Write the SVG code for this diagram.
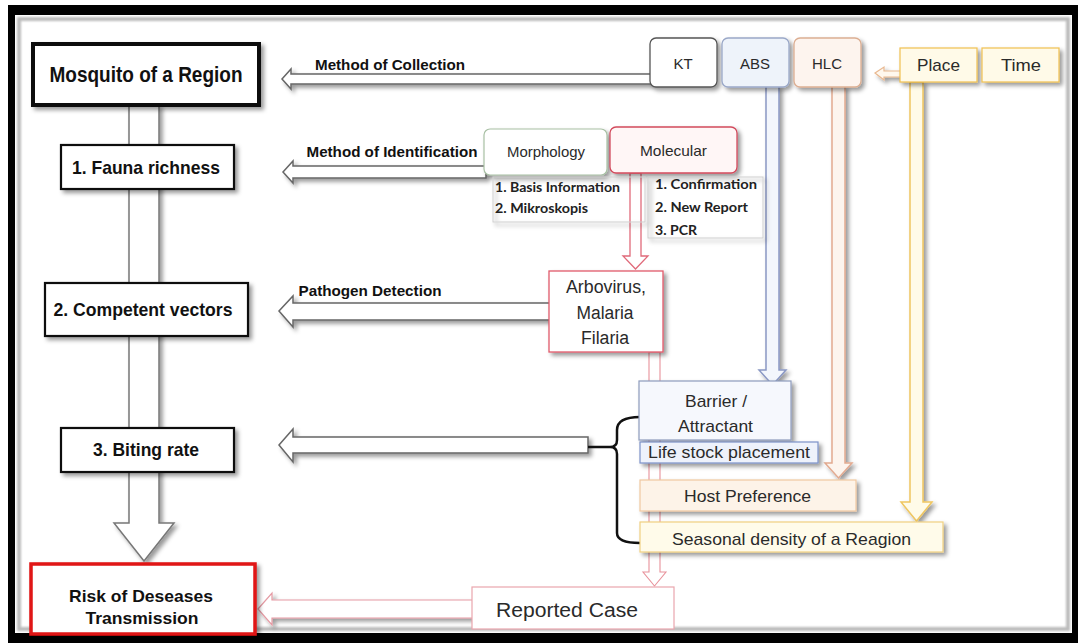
<svg xmlns="http://www.w3.org/2000/svg" width="1078" height="643" viewBox="0 0 1078 643">
<defs>
<filter id="sh" x="-20%" y="-50%" width="150%" height="200%">
<feDropShadow dx="3" dy="3" stdDeviation="2" flood-color="#000" flood-opacity="0.4"/>
</filter>
<filter id="blur1"><feGaussianBlur stdDeviation="1.2"/></filter>
</defs>
<style>
.b{font-family:"Liberation Sans",Arial,sans-serif;font-weight:bold;fill:#111;text-anchor:middle}
.r{font-family:"Liberation Sans",Arial,sans-serif;fill:#2a2a2a;text-anchor:middle}
.c{font-family:Lato,"Liberation Sans",sans-serif;font-weight:bold;fill:#222}
.arr{fill:#fff;stroke:#666;stroke-width:1.5;stroke-linejoin:miter;filter:url(#sh)}
.box{filter:url(#sh)}
</style>
<rect x="0" y="0" width="1078" height="643" fill="#fff"/>
<rect x="8" y="5" width="1070" height="638" fill="#000"/>
<rect x="15" y="15" width="1057" height="618" fill="#fff"/>
<rect x="19" y="19" width="1049" height="610" fill="none" stroke="#bbb" stroke-width="4" filter="url(#blur1)"/>

<g id="connectors">
<polygon class="arr" points="129,105 159,105 159,523 174,523 144,561 114,523 129,523" style="stroke:#777"/>
<polygon class="arr" points="282,79 291,69 291,74 652,74 652,84 291,84 291,89"/>
<polygon class="arr" points="283,172 293,161 293,166 486,166 486,178 293,178 293,183"/>
<polygon class="arr" points="279,311 293,296 293,303 551,303 551,320 293,320 293,327"/>
<polygon class="arr" points="279,445 293,429 293,437 588,437 588,453 293,453 293,462"/>
<polygon class="arr" points="258,609 272,593 272,600 474,600 474,618 272,618 272,625" style="stroke:#e59aa3;stroke-width:1.2"/>
<polygon class="arr" points="875,73 884,67 884,71 902,71 902,77 884,77 884,80" style="stroke:#e8b890;fill:#fff8ee;stroke-width:1.2"/>
<polygon class="arr" points="766,86 779,86 779,370 786,370 772.5,385 759,370 766,370" style="fill:#f3f6fc;stroke:#8a98c4"/>
<polygon class="arr" points="832,86 845,86 845,463 852,463 838.5,478 825,463 832,463" style="fill:#fdf5ee;stroke:#e2aa90"/>
<polygon class="arr" points="910,82 923,82 923,502 932,502 916.5,521 901,502 910,502" style="fill:#fffbe8;stroke:#efc660"/>
<polygon class="arr" points="649,352 660,352 660,572 666,572 654.5,586 643,572 649,572" style="fill:#fff;stroke:#e8929b;stroke-width:1.1;filter:none"/>
<polygon class="arr" points="630,173 641,173 641,256 648,256 635.5,269 623,256 630,256" style="fill:#fff;stroke:#e06a7a;stroke-width:1.3;filter:none"/>
<path d="M640 417 Q617 417 617 430 L617 440 Q617 447 610 447 L588 447 M610 447 Q617 447 617 454 L617 533 Q617 543 640 543" fill="none" stroke="#111" stroke-width="2.5"/>
</g>

<g id="mosquito">
<rect class="box" x="33" y="44" width="226" height="61" fill="#fff" stroke="#111" stroke-width="4"/>
<text class="b" x="146" y="82" font-size="22" textLength="193" lengthAdjust="spacingAndGlyphs">Mosquito of a Region</text>
</g>
<g id="fauna">
<rect class="box" x="61" y="145" width="173" height="44" fill="#fff" stroke="#111" stroke-width="2.2"/>
<text class="b" x="146" y="174" font-size="19" textLength="148" lengthAdjust="spacingAndGlyphs">1. Fauna richness</text>
</g>
<g id="competent">
<rect class="box" x="45" y="283" width="203" height="53" fill="#fff" stroke="#111" stroke-width="2.2"/>
<text class="b" x="143" y="316" font-size="19" textLength="179" lengthAdjust="spacingAndGlyphs">2. Competent vectors</text>
</g>
<g id="biting">
<rect class="box" x="61" y="428" width="173" height="44" fill="#fff" stroke="#111" stroke-width="2.2"/>
<text class="b" x="146" y="456" font-size="19" textLength="106" lengthAdjust="spacingAndGlyphs">3. Biting rate</text>
</g>
<g id="risk">
<rect class="box" x="31" y="564" width="224" height="70" fill="#fff" stroke="#e01515" stroke-width="3.5"/>
<text class="b" x="141" y="602" font-size="17" textLength="144" lengthAdjust="spacingAndGlyphs">Risk of Deseases</text>
<text class="b" x="142" y="624" font-size="17" textLength="113" lengthAdjust="spacingAndGlyphs">Transmission</text>
</g>

<g id="label-collection"><text class="b" x="390" y="70" font-size="15" textLength="150" lengthAdjust="spacingAndGlyphs">Method of Collection</text></g>
<g id="label-identification"><text class="b" x="392" y="157" font-size="15" textLength="171" lengthAdjust="spacingAndGlyphs">Method of Identification</text></g>
<g id="label-pathogen"><text class="b" x="370" y="296" font-size="15" textLength="143" lengthAdjust="spacingAndGlyphs">Pathogen Detection</text></g>

<g id="kt">
<rect class="box" x="650" y="38" width="67" height="49" rx="6" fill="#fff" stroke="#555" stroke-width="1.3"/>
<text class="r" x="683" y="69" font-size="15">KT</text>
</g>
<g id="abs">
<rect class="box" x="722" y="38" width="67" height="49" rx="6" fill="#eef3fa" stroke="#9aa8c8" stroke-width="1.3"/>
<text class="r" x="755" y="69" font-size="15">ABS</text>
</g>
<g id="hlc">
<rect class="box" x="794" y="38" width="67" height="49" rx="6" fill="#fdf4ee" stroke="#dcae92" stroke-width="1.3"/>
<text class="r" x="827" y="69" font-size="15">HLC</text>
</g>
<g id="place">
<rect class="box" x="900" y="48" width="77" height="34" fill="#fffae8" stroke="#f0c050" stroke-width="1.2"/>
<text class="r" x="938.5" y="71" font-size="17" textLength="43" lengthAdjust="spacingAndGlyphs">Place</text>
</g>
<g id="time">
<rect class="box" x="982" y="48" width="77" height="34" fill="#fffae8" stroke="#f0c050" stroke-width="1.2"/>
<text class="r" x="1021" y="71" font-size="17" textLength="40" lengthAdjust="spacingAndGlyphs">Time</text>
</g>

<g id="morphology">
<rect class="box" x="484" y="129" width="123" height="46" rx="6" fill="#fff" stroke="#a8c0a4" stroke-width="1.2"/>
<text class="r" x="546" y="157" font-size="15" textLength="78" lengthAdjust="spacingAndGlyphs">Morphology</text>
</g>
<g id="molecular">
<rect class="box" x="610" y="127" width="127" height="46" rx="6" fill="#fff6f6" stroke="#d24a5c" stroke-width="1.3"/>
<text class="r" x="673.5" y="156" font-size="15" textLength="67" lengthAdjust="spacingAndGlyphs">Molecular</text>
</g>
<g id="morphology-notes">
<rect class="box" x="493" y="177" width="152" height="45" fill="none" stroke="#cfcfcf" stroke-width="1"/>
<text class="c" x="495" y="192" font-size="12.5" textLength="125" lengthAdjust="spacingAndGlyphs">1. Basis Information</text>
<text class="c" x="495" y="213" font-size="12.5" textLength="93" lengthAdjust="spacingAndGlyphs">2. Mikroskopis</text>
</g>
<g id="molecular-notes">
<rect class="box" x="648" y="177" width="115" height="61" fill="none" stroke="#cfcfcf" stroke-width="1"/>
<text class="c" x="655" y="189" font-size="12.5" textLength="102" lengthAdjust="spacingAndGlyphs">1. Confirmation</text>
<text class="c" x="655" y="212" font-size="12.5" textLength="93" lengthAdjust="spacingAndGlyphs">2. New Report</text>
<text class="c" x="655" y="235" font-size="12.5" textLength="42" lengthAdjust="spacingAndGlyphs">3. PCR</text>
</g>

<g id="pathogens">
<rect class="box" x="549" y="271" width="114" height="81" fill="#fff" stroke="#e05a6a" stroke-width="1.3"/>
<text class="r" x="606" y="293" font-size="18" textLength="80" lengthAdjust="spacingAndGlyphs">Arbovirus,</text>
<text class="r" x="605" y="319" font-size="18" textLength="57" lengthAdjust="spacingAndGlyphs">Malaria</text>
<text class="r" x="605" y="344" font-size="18" textLength="48" lengthAdjust="spacingAndGlyphs">Filaria</text>
</g>

<g id="barrier">
<rect class="box" x="639" y="381" width="152" height="59" fill="#f6f8fd" stroke="#8e9cbc" stroke-width="1.2"/>
<text class="r" x="716" y="407" font-size="17" textLength="62" lengthAdjust="spacingAndGlyphs">Barrier /</text>
<text class="r" x="715.5" y="432" font-size="17" textLength="75" lengthAdjust="spacingAndGlyphs">Attractant</text>
</g>
<g id="livestock">
<rect class="box" x="640" y="442" width="178" height="21" fill="#eef2fb" stroke="#7c92c8" stroke-width="1.2"/>
<text class="r" x="729" y="458" font-size="17" textLength="162" lengthAdjust="spacingAndGlyphs">Life stock placement</text>
</g>
<g id="host">
<rect class="box" x="640" y="480" width="216" height="31" fill="#fdf3e8" stroke="#f0c8a0" stroke-width="1.2"/>
<text class="r" x="747.5" y="502" font-size="17" textLength="127" lengthAdjust="spacingAndGlyphs">Host Preference</text>
</g>
<g id="seasonal">
<rect class="box" x="640" y="522" width="303" height="30" fill="#fffbea" stroke="#f0d080" stroke-width="1.2"/>
<text class="r" x="791.5" y="545" font-size="17" textLength="239" lengthAdjust="spacingAndGlyphs">Seasonal density of a Reagion</text>
</g>
<g id="reported">
<rect x="472" y="587" width="202" height="42" fill="#fff" stroke="#eaa6ad" stroke-width="1.2"/>
<text class="r" x="567" y="617" font-size="20" textLength="142" lengthAdjust="spacingAndGlyphs">Reported Case</text>
</g>
</svg>
